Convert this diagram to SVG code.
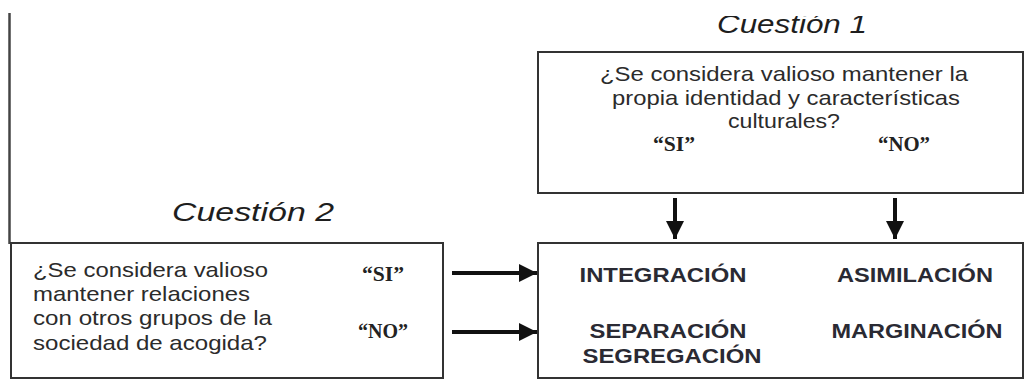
<svg xmlns="http://www.w3.org/2000/svg" width="1025" height="379" viewBox="0 0 1025 379">
  <style>
    .box { fill: #ffffff; stroke: #333333; stroke-width: 2; }
    .q { font-family: "Liberation Sans", Arial, sans-serif; font-size: 21px; fill: #2b2b2b; }
    .title { font-family: "Liberation Sans", Arial, sans-serif; font-size: 26px; font-style: italic; fill: #1e1e1e; text-anchor: middle; }
    .yn { font-family: "Liberation Serif", "Times New Roman", serif; font-size: 20px; font-weight: bold; fill: #222222; text-anchor: middle; }
    .res { font-family: "Liberation Sans", Arial, sans-serif; font-size: 20px; font-weight: bold; fill: #2a2a33; text-anchor: middle; }
    .conn { stroke: #111111; stroke-width: 4; fill: none; }
    .frame { stroke: #444444; stroke-width: 2.5; fill: none; }
  </style>
  <defs>
    <clipPath id="topclip">
      <rect x="0" y="16" width="1025" height="363"/>
    </clipPath>
    <marker id="arr" viewBox="0 0 10 10" refX="10" refY="5" markerWidth="5" markerHeight="4.5" markerUnits="strokeWidth" orient="auto">
      <path d="M0,0 L10,5 L0,10 Z" fill="#111111"/>
    </marker>
  </defs>
  <rect width="1025" height="379" fill="#ffffff"/>

  <g id="frame">
    <line class="frame" x1="9.5" y1="13" x2="9.5" y2="244"/>
  </g>

  <g id="cuestion1">
    <text class="title" x="792" y="33" clip-path="url(#topclip)" textLength="150" lengthAdjust="spacingAndGlyphs">Cuestión 1</text>
    <rect class="box" x="538" y="52" width="485" height="141"/>
    <text class="q" x="784" y="81" text-anchor="middle" textLength="368" lengthAdjust="spacingAndGlyphs">¿Se considera valioso mantener la</text>
    <text class="q" x="786" y="105" text-anchor="middle" textLength="348" lengthAdjust="spacingAndGlyphs">propia identidad y características</text>
    <text class="q" x="784" y="128" text-anchor="middle" textLength="112" lengthAdjust="spacingAndGlyphs">culturales?</text>
    <text class="yn" x="674" y="151" textLength="42" lengthAdjust="spacingAndGlyphs">“SI”</text>
    <text class="yn" x="904" y="151" textLength="52" lengthAdjust="spacingAndGlyphs">“NO”</text>
  </g>

  <g id="cuestion2">
    <text class="title" x="253" y="221" textLength="162" lengthAdjust="spacingAndGlyphs">Cuestión 2</text>
    <rect class="box" x="11" y="243" width="432" height="135"/>
    <text class="q" x="33" y="277" textLength="235" lengthAdjust="spacingAndGlyphs">¿Se considera valioso</text>
    <text class="q" x="33" y="301" textLength="217" lengthAdjust="spacingAndGlyphs">mantener relaciones</text>
    <text class="q" x="33" y="325" textLength="239" lengthAdjust="spacingAndGlyphs">con otros grupos de la</text>
    <text class="q" x="33" y="350" textLength="234" lengthAdjust="spacingAndGlyphs">sociedad de acogida?</text>
    <text class="yn" x="383" y="281" textLength="42" lengthAdjust="spacingAndGlyphs">“SI”</text>
    <text class="yn" x="383" y="338" textLength="50" lengthAdjust="spacingAndGlyphs">“NO”</text>
  </g>

  <g id="resultados">
    <rect class="box" x="538" y="243" width="485" height="135"/>
    <text class="res" x="663" y="282" textLength="167" lengthAdjust="spacingAndGlyphs">INTEGRACIÓN</text>
    <text class="res" x="915" y="282" textLength="156" lengthAdjust="spacingAndGlyphs">ASIMILACIÓN</text>
    <text class="res" x="668" y="338" textLength="157" lengthAdjust="spacingAndGlyphs">SEPARACIÓN</text>
    <text class="res" x="672" y="363" textLength="179" lengthAdjust="spacingAndGlyphs">SEGREGACIÓN</text>
    <text class="res" x="917" y="338" textLength="171" lengthAdjust="spacingAndGlyphs">MARGINACIÓN</text>
  </g>

  <g id="connectors">
    <line class="conn" x1="675" y1="198" x2="675" y2="239" marker-end="url(#arr)"/>
    <line class="conn" x1="895" y1="198" x2="895" y2="239" marker-end="url(#arr)"/>
    <line class="conn" x1="452" y1="273" x2="537" y2="273" marker-end="url(#arr)"/>
    <line class="conn" x1="452" y1="332" x2="537" y2="332" marker-end="url(#arr)"/>
  </g>
</svg>
